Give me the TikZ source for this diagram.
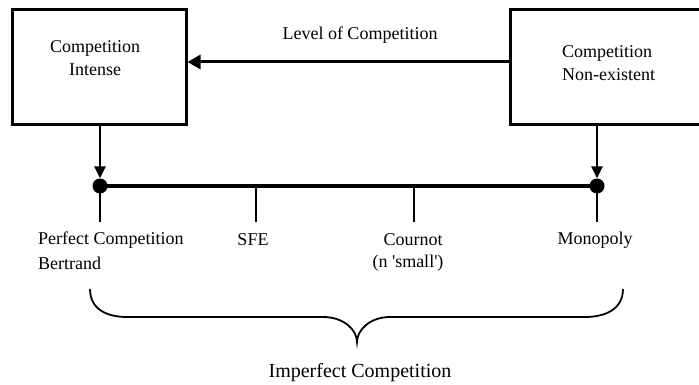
\documentclass[tikz,border=0pt]{standalone}
\usepackage{fontspec}
\setmainfont{Liberation Serif}
\usetikzlibrary{arrows.meta}
\begin{document}
\begin{tikzpicture}[x=1pt,y=-1pt,
  boxstyle/.style={draw,line width=3pt,minimum width=174pt,minimum height=115pt,inner sep=0pt},
  lbl/.style={inner sep=0pt,font=\fontsize{18}{23}\selectfont},
  bigarrow/.style={line width=3pt,-{Triangle[length=13pt,width=14pt]}},
  downarrow/.style={line width=2.5pt,-{Triangle[length=12pt,width=11pt]}},
  tick/.style={line width=1.3pt},
  dotstyle/.style={circle,fill=black,minimum size=15pt,inner sep=0pt}]
\useasboundingbox (0,0) rectangle (699,385);
\clip (0,0) rectangle (699,385);
% boxes
\node[boxstyle] (boxL) at (99,67.5) {};
\node[boxstyle,minimum width=200pt] (boxR) at (610,67.5) {};
\node[lbl,align=center] (tL) at (95,58.5) {Competition\\Intense};
\node[lbl,align=left,anchor=west] (tR) at (562,63.5) {Competition\\Non-existent};
% level arrow
\draw[bigarrow] ([yshift=5.5pt]boxR.west) -- ([yshift=5.5pt]boxL.east);
\node[lbl] (level) at (360,35) {Level of Competition};
% axis
\node[dotstyle] (dotL) at (100,186) {};
\node[dotstyle] (dotR) at (597,186) {};
\draw[line width=4pt] (dotL.center) -- (dotR.center);
\draw[downarrow] (boxL.south -| dotL) -- (dotL.north);
\draw[downarrow] (boxR.south -| dotR) -- (dotR.north);
% ticks
\coordinate (sfeTop) at (256,186);
\coordinate (sfeBot) at (256,222);
\coordinate (courTop) at (414,186);
\coordinate (courBot) at (414,222);
\coordinate (pcBot) at (100,222);
\coordinate (monBot) at (597,222);
\draw[tick] (dotL.center) -- (pcBot);
\draw[tick] (dotR.center) -- (monBot);
\draw[tick] (sfeTop) -- (sfeBot);
\draw[tick] (courTop) -- (courBot);
% labels
\node[lbl,anchor=west] (pc) at (38,240) {Perfect Competition};
\node[lbl,anchor=west] (bert) at (38,263) {Bertrand};
\node[lbl] (sfe) at (253,240) {SFE};
\node[lbl] (cour) at (413,240) {Cournot};
\node[lbl] (nsmall) at (408,263) {(n \textquotesingle small\textquotesingle)};
\node[lbl] (mono) at (595,240) {Monopoly};
% brace
\draw[line width=1.8pt] (90,289) .. controls (90,310) and (108,317) .. (127,317) -- (323,317)
  .. controls (344,317) and (357,330) .. (357,342)
  .. controls (357,330) and (370,317) .. (390,317) -- (585,317)
  .. controls (604,317) and (623,310) .. (623,289);
\node[inner sep=0pt,font=\fontsize{20}{24}\selectfont] (imp) at (360,373) {Imperfect Competition};
\end{tikzpicture}
\end{document}
